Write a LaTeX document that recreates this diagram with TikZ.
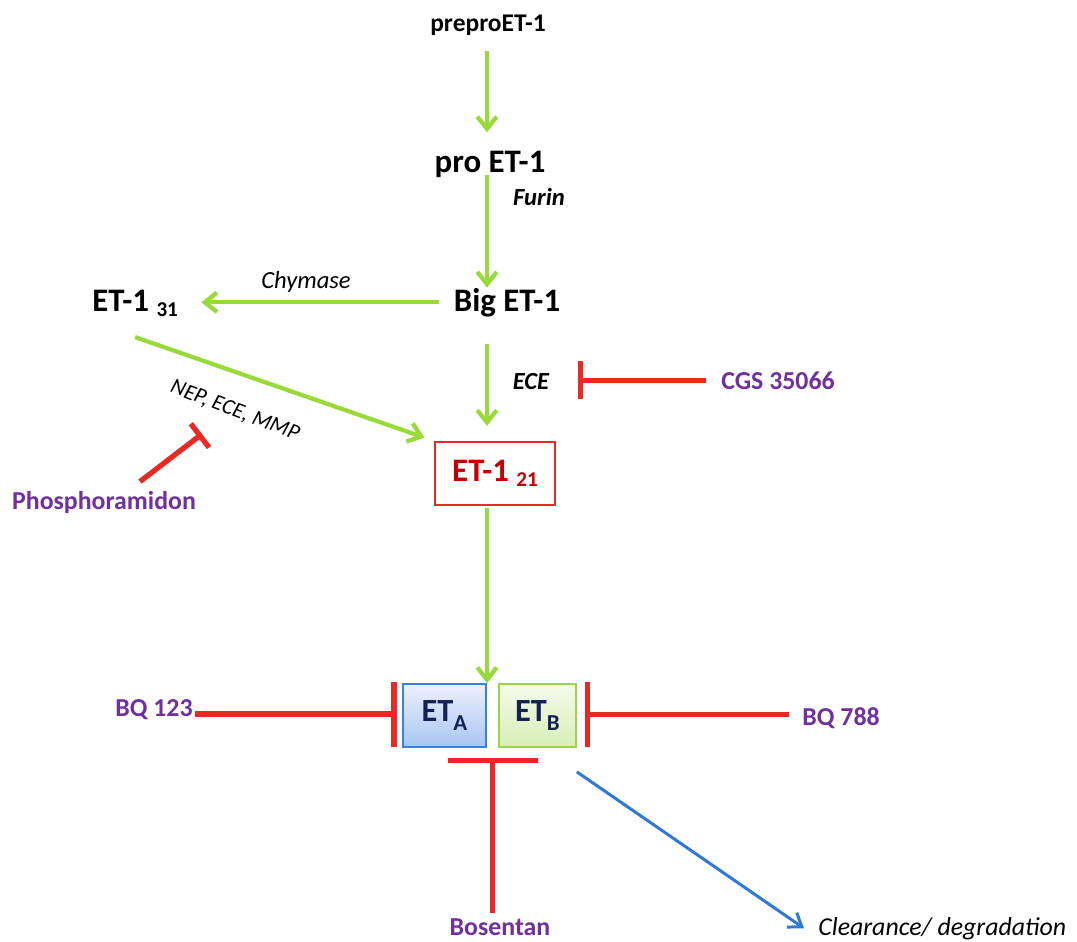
\documentclass[tikz,border=0pt]{standalone}
\usepackage{fontspec}
\setmainfont{Carlito}
\usetikzlibrary{arrows.meta, positioning, calc}
\definecolor{actgreen}{RGB}{152,218,56}
\definecolor{inhred}{RGB}{236,40,36}
\definecolor{drugpurple}{RGB}{112,48,160}
\definecolor{etred}{RGB}{196,0,0}
\definecolor{clearblue}{RGB}{46,120,214}
\definecolor{etnavy}{RGB}{20,34,82}
\definecolor{etAborder}{RGB}{58,128,222}
\definecolor{etBborder}{RGB}{155,212,70}
\newcommand{\subidx}[1]{\raisebox{-3.2pt}{\fontsize{12}{14}\selectfont #1}}
\newcommand{\subrec}[1]{\raisebox{-5pt}{\fontsize{13}{15}\selectfont #1}}
\tikzset{
    stage/.style={
        inner sep=0pt, font=\fontsize{18.7}{22}\selectfont\bfseries
    },
    smallstage/.style={
        inner sep=0pt, font=\fontsize{14.5}{17}\selectfont\bfseries
    },
    enzyme/.style={
        inner sep=0pt, font=\fontsize{14}{17}\selectfont\itshape
    },
    drug/.style={
        inner sep=0pt, text=drugpurple,
        font=\fontsize{14.7}{17}\selectfont\bfseries
    },
    receptor/.style={
        rectangle, line width=1pt, inner sep=0pt,
        minimum height=1.26cm, text=etnavy,
        font=\fontsize{18.4}{22}\selectfont\bfseries
    },
    act/.style={draw=actgreen, line width=2.4pt,
        -{Straight Barb[length=7pt,width=11pt]}},
    inhib/.style={draw=inhred, line width=3pt, -{Bar[width=#1]}},
    clear/.style={draw=clearblue, line width=1.7pt,
        -{Straight Barb[length=7pt,width=10pt]}}
}
\begin{document}
\begin{tikzpicture}[x=0.02cm, y=-0.02cm]
\path[use as bounding box, fill=white] (0,0) rectangle (1077,941);

% Synthesis column
\coordinate (axis) at (487,0);
\node[smallstage, anchor=base] (prepro) at (488,31) {preproET-1};
\node[stage, anchor=base] (pro) at (490,172) {pro ET-1};
\node[stage, anchor=base] (big) at (507,311) {Big ET-1};
\node[stage, anchor=base west] (et31) at (92,311) {ET-1 \subidx{31}};
\node[stage, draw=inhred, line width=1.3pt, fill=white, text=etred,
      minimum width=2.4cm, minimum height=1.26cm] (et21) at (495,473.5) {ET-1 \subidx{21}};

% Enzymes
\node[enzyme, font=\fontsize{14}{17}\selectfont\bfseries\itshape, anchor=base] (furin) at (539,205) {Furin};
\node[enzyme, anchor=base] (chymase) at (306,288) {Chymase};
\node[enzyme, font=\fontsize{14}{17}\selectfont\bfseries\itshape, anchor=base] (ece) at (531,389) {ECE};
\node[enzyme, font=\fontsize{12.5}{15}\selectfont\itshape, rotate=-21] (nep) at (235,411) {NEP, ECE, MMP};

\draw[act, shorten <=0.32cm, shorten >=0.36cm] (prepro.south -| axis) -- (pro.north -| axis);
\draw[act, shorten <=0.06cm] (pro.base -| axis) -- (big.north -| axis);
\draw[act, shorten <=0.3cm, shorten >=0.46cm] (big.west) -- (big.west -| et31.east);
\draw[act, shorten >=0.2cm] ([yshift=-0.4cm]et31.south) -- (et21.north west);
\draw[act, shorten <=0.54cm, shorten >=0.3cm] (big.south -| axis) -- (et21.north -| axis);

% Receptors
\node[receptor, draw=etAborder, top color=blue!6, bottom color=etAborder!45,
      minimum width=1.66cm] (etA) at (444.5,715.5) {ET\subrec{A}};
\node[receptor, draw=etBborder, top color=etBborder!10, bottom color=etBborder!40,
      minimum width=1.54cm] (etB) at (537.5,715.5) {ET\subrec{B}};
\coordinate (rgap) at ($(etA.south east)!.5!(etB.south west)$);

\draw[act, shorten <=0.04cm] (et21.south -| axis) -- (etA.north -| axis);

% Antagonists
\node[drug, anchor=base] (cgs) at (778,389) {CGS 35066};
\node[drug, anchor=base] (phos) at (104,509) {Phosphoramidon};
\node[drug, anchor=base] (bq123) at (154,716) {BQ 123};
\node[drug, anchor=base] (bq788) at (841,725) {BQ 788};
\node[drug, anchor=base] (bosentan) at (500,935) {Bosentan};
\coordinate (nepbar) at (202,434);

\draw[inhib=0.76cm, shorten <=0.29cm, shorten >=0.56cm] (cgs.west) -- (cgs.west -| ece.east);
\draw[inhib=0.6cm] ([shift={(36,-9)}]phos.north) -- (nepbar);
\draw[inhib=1.3cm, shorten <=0.04cm, shorten >=0.11cm]
    ([yshift=0.04cm]bq123.base east) -- ([yshift=0.04cm]bq123.base east -| etA.west);
\draw[inhib=1.3cm, shorten <=0.26cm, shorten >=0.16cm]
    ([yshift=0.06cm]bq788.west) -- ([yshift=0.06cm]bq788.west -| etB.east);
\draw[inhib=1.8cm, shorten <=0.1cm, shorten >=0.2cm] (bosentan.north -| rgap) -- (rgap);

% Clearance
\node[enzyme, font=\fontsize{14.7}{17}\selectfont\itshape, anchor=base west] (clear) at (818,935) {Clearance/ degradation};
\draw[clear] ([yshift=-0.48cm]etB.south east) -- ([xshift=-0.28cm]clear.west);

\end{tikzpicture}
\end{document}
